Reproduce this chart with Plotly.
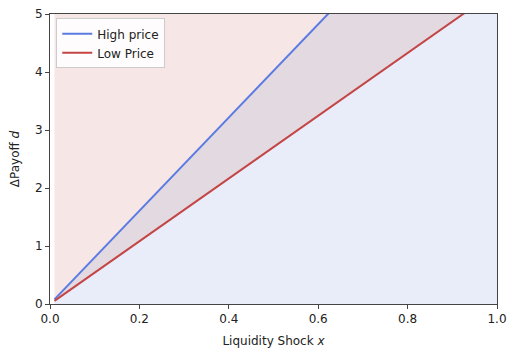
import plotly.graph_objects as go

# Data
x_vals = [0.01, 1.0]
high_price = [0.080, 8.04]
low_price = [0.054, 5.41]
ceiling = [5.0, 5.0]

x_ticks = [0.0, 0.2, 0.4, 0.6, 0.8, 1.0]
y_ticks = [0, 1, 2, 3, 4, 5]

BLUE_LINE = "#5b7be3"
RED_LINE = "#c44545"
BLUE_FILL = "#e9edf9"
PURPLE_FILL = "#e3d9e1"
PINK_FILL = "#f6e6e6"

fig = go.Figure()
# fills
fig.add_trace(go.Scatter(x=x_vals, y=low_price, mode="lines", line=dict(width=0),
                         fill="tozeroy", fillcolor=BLUE_FILL, showlegend=False, hoverinfo="skip"))
fig.add_trace(go.Scatter(x=x_vals, y=high_price, mode="lines", line=dict(width=0),
                         fill="tonexty", fillcolor=PURPLE_FILL, showlegend=False, hoverinfo="skip"))
fig.add_trace(go.Scatter(x=x_vals, y=ceiling, mode="lines", line=dict(width=0),
                         fill="tonexty", fillcolor=PINK_FILL, showlegend=False, hoverinfo="skip"))
# lines
fig.add_trace(go.Scatter(x=x_vals, y=high_price, mode="lines", name="High price",
                         line=dict(color=BLUE_LINE, width=2)))
fig.add_trace(go.Scatter(x=x_vals, y=low_price, mode="lines", name="Low Price",
                         line=dict(color=RED_LINE, width=2)))

axis_common = dict(showline=True, linecolor="#444", linewidth=1, mirror=True,
                   ticks="outside", ticklen=4, tickcolor="#444", showgrid=False,
                   zeroline=False, automargin=False,
                   tickfont=dict(family="DejaVu Sans", size=12, color="#222"))

fig.update_xaxes(range=[0, 1], tickvals=x_ticks, ticktext=[f"{v:.1f}" for v in x_ticks],
                 title=dict(text="Liquidity Shock <i>x</i>", font=dict(family="DejaVu Sans", size=12, color="#222"), standoff=11),
                 **axis_common)
fig.update_yaxes(range=[0, 5], tickvals=y_ticks, ticktext=[str(v) for v in y_ticks],
                 title=dict(text="ΔPayoff <i>d</i>", font=dict(family="DejaVu Sans", size=12, color="#222"), standoff=12),
                 **axis_common)

fig.update_layout(
    width=508, height=348,
    margin=dict(l=50, r=11, t=14, b=44),
    paper_bgcolor="white", plot_bgcolor="white",
    font=dict(family="DejaVu Sans", size=12, color="#222"),
    legend=dict(x=0.014, y=0.985, xanchor="left", yanchor="top", traceorder="normal",
                bgcolor="rgba(255,255,255,0.85)", bordercolor="#ccc", borderwidth=1,
                font=dict(family="DejaVu Sans", size=12, color="#222"),
                tracegroupgap=0, itemwidth=30),
    showlegend=True,
)

fig.write_html("out.html", config={"displayModeBar": False},
               post_script="document.body.style.margin='0';document.body.style.overflow='hidden';")
